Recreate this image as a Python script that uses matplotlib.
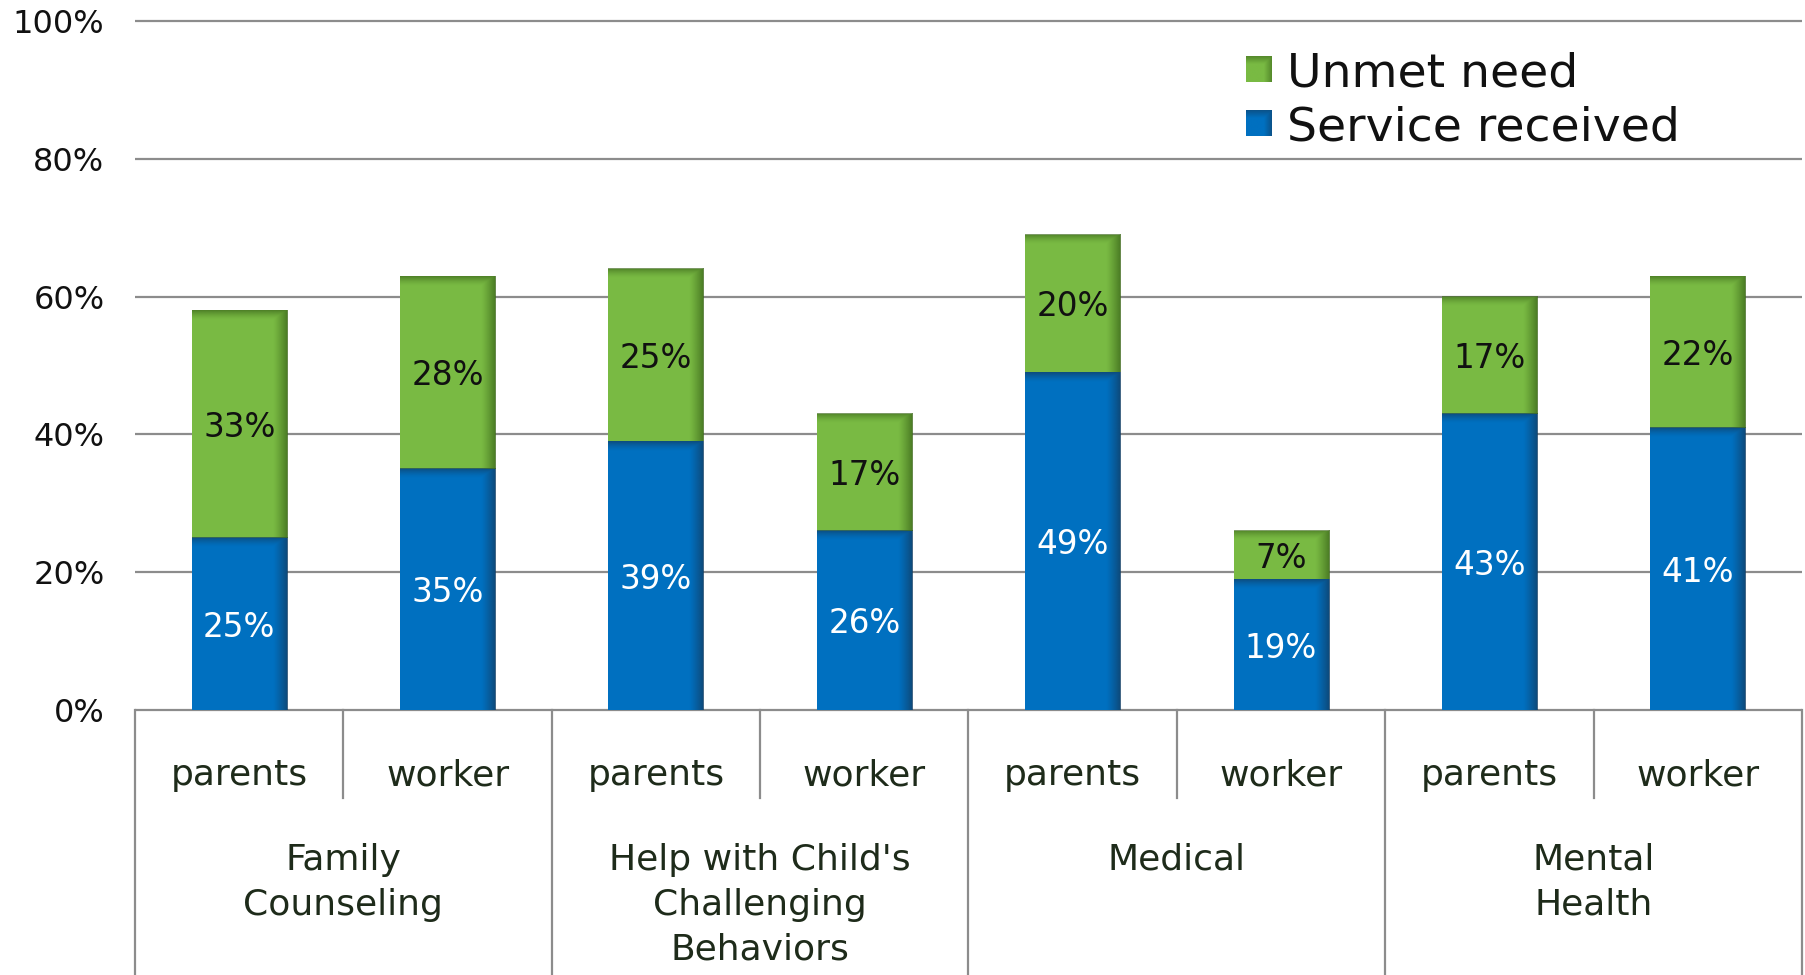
import numpy as np
import matplotlib
matplotlib.use("Agg")
import matplotlib.pyplot as plt
from matplotlib.colors import to_rgb

# ---- data ----
groups = ["Family\nCounseling", "Help with Child's\nChallenging\nBehaviors", "Medical", "Mental\nHealth"]
respondents = ["parents", "worker"]
service_received = [25, 35, 39, 26, 49, 19, 43, 41]
unmet_need = [33, 28, 25, 17, 20, 7, 17, 22]
y_ticks = [0, 20, 40, 60, 80, 100]
y_tick_labels = [f"{v}%" for v in y_ticks]
series_names = ["Unmet need", "Service received"]

# ---- style ----
BLUE = "#0070C0"
GREEN = "#79BA43"
BLUE_DARK = "#123F66"
GREEN_DARK = "#3E6A1C"
GRID = "#8C8C8C"
TEXT_DARK = "#1E2B1A"

W, H = 1806, 975
fig = plt.figure(figsize=(W / 100, H / 100), dpi=100)
px_left, px_right, px_top, px_base = 135, 1802, 21, 710
ax = fig.add_axes([px_left / W, (H - px_base) / H,
                   (px_right - px_left) / W, (px_base - px_top) / H])
ax.set_xlim(-0.5, 7.5)
ax.set_ylim(0, 100)
axes_h = px_base - px_top


def yfrac(py):
    """Figure pixel row -> axes fraction (negative below baseline)."""
    return (px_base - py) / axes_h


def shade(x, bottom, height, width, dark):
    """Darken right edge and top edge of a bar segment with a soft ramp."""
    nx, ny = 120, 240
    xs = np.linspace(0, 1, nx)
    ys = np.linspace(bottom, bottom + height, ny)
    right = np.clip((xs - 0.85) / 0.15, 0, 1) ** 1.2
    top = np.clip(1 - (bottom + height - ys) / 1.4, 0, 1) ** 1.5
    a = np.maximum(right[None, :] * 0.8, top[:, None] * 0.7)
    img = np.zeros((ny, nx, 4))
    img[..., :3] = to_rgb(dark)
    img[..., 3] = a
    ax.imshow(img, extent=(x - width / 2, x + width / 2, bottom, bottom + height),
              origin="lower", aspect="auto", interpolation="bilinear", zorder=3)


n = len(service_received)
xpos = np.arange(n)
bw = 0.456

ax.bar(xpos, service_received, width=bw, color=BLUE, zorder=2)
ax.bar(xpos, unmet_need, width=bw, bottom=service_received, color=GREEN, zorder=2)

for x, s, u in zip(xpos, service_received, unmet_need):
    shade(x, 0, s, bw, BLUE_DARK)
    shade(x, s, u, bw, GREEN_DARK)
    ax.text(x, s / 2, f"{s}%", ha="center", va="center_baseline", color="white",
            fontsize=23.5, zorder=5)
    ax.text(x, s + u / 2, f"{u}%", ha="center", va="center_baseline", color="#111111",
            fontsize=23.5, zorder=5)

ax.set_xlim(-0.5, 7.5)
ax.set_ylim(0, 100)

# gridlines
ax.hlines(y_ticks, -0.5, 7.5, colors=GRID, linewidth=1.6, zorder=1, clip_on=False)

# y axis
ax.set_yticks(y_ticks)
ax.set_yticklabels(y_tick_labels, fontsize=23, color="#111111")
ax.tick_params(axis="y", length=0, pad=22)
ax.set_xticks([])
for sp in ax.spines.values():
    sp.set_visible(False)

# category table below the baseline
tr = ax.get_xaxis_transform()
bottom_frac = yfrac(H + 2)
for xb in [-0.5, 1.5, 3.5, 5.5, 7.5]:
    ax.plot([xb, xb], [0, bottom_frac], color=GRID, linewidth=1.6,
            transform=tr, clip_on=False, zorder=1)
for xb in [0.5, 2.5, 4.5, 6.5]:
    ax.plot([xb, xb], [0, yfrac(798)], color=GRID, linewidth=1.6,
            transform=tr, clip_on=False, zorder=1)

for i, x in enumerate(xpos):
    ax.text(x, yfrac(772), respondents[i % 2], transform=tr, ha="center",
            va="center_baseline", fontsize=26, color=TEXT_DARK)
for g, name in enumerate(groups):
    ax.text(2 * g + 0.5, yfrac(843), name, transform=tr, ha="center", va="top",
            fontsize=26, color=TEXT_DARK, linespacing=1.4, multialignment="center")

# legend
swatch = 26
for i, (name, col, dark) in enumerate([(series_names[0], GREEN, GREEN_DARK),
                                        (series_names[1], BLUE, BLUE_DARK)]):
    cy = [69, 123][i]
    sax = fig.add_axes([1246 / W, (H - cy - swatch / 2) / H, swatch / W, swatch / H])
    sax.set_axis_off()
    t = np.linspace(0, 1, 40)
    edge = np.clip((t - 0.7) / 0.3, 0, 1)
    a = np.maximum(edge[None, :], edge[::-1][:, None]) * 0.6
    base = np.array(to_rgb(col))
    dk = np.array(to_rgb(dark))
    img = base[None, None, :] * (1 - a[..., None]) + dk[None, None, :] * a[..., None]
    sax.imshow(img, aspect="auto", interpolation="bilinear")
    fig.text(1287 / W, 1 - cy / H, name, ha="left", va="center_baseline", fontsize=34,
             color="#111111")

fig.savefig("out.png", dpi=100)
